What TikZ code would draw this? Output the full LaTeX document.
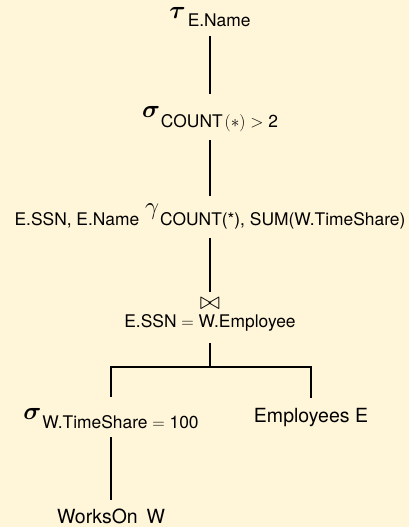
\documentclass[tikz,border=0pt]{standalone}
\usepackage{amsmath}
\usepackage{fontspec}
\setmainfont{TeX Gyre Heros}
\definecolor{bg}{HTML}{FFF5D9}
\newcommand\grk[1]{{\fontsize{25}{25}\selectfont$#1$}}
\newcommand\lowered[2]{\raisebox{-#1}{#2}}
\newsavebox\joinbox
\newcommand\overjoin[2]{\sbox\joinbox{#2}\hbox to \wd\joinbox{\hss\raisebox{#1}[0pt][0pt]{{\fontsize{28}{28}\selectfont$\bowtie$}}\hss}\kern-\wd\joinbox\usebox\joinbox}
\begin{document}
\begin{tikzpicture}[x=1pt,y=1pt,
  every node/.style={inner sep=0pt, outer sep=0pt, anchor=base, font=\fontsize{17.4}{20}\selectfont},
  leaf/.style={font=\fontsize{19.5}{22}\selectfont},
  edge/.style={line width=1.6pt}]
\fill[bg] (0,0) rectangle (409,-527);
\useasboundingbox (0,0) rectangle (409,-527);

\node[text height=12pt, text depth=17pt] (proj) at (210,-19) {\grk{\boldsymbol\tau}\kern2pt\lowered{7.7pt}{E.Name}};
\node[text height=23.7pt, text depth=22.3pt] (sel1) at (210,-117.7) {\grk{\boldsymbol\sigma}\kern1pt\lowered{10pt}{COUNT\kern2pt$(*)>\text{2}$}};
\node[text height=29pt, text depth=13pt] (grp) at (210,-225) {E.SSN, E.Name\kern6pt\raisebox{10.3pt}{\grk{\gamma}}\kern1pt COUNT(*), SUM(W.TimeShare)};
\node[text height=35pt, text depth=16pt] (join) at (210,-327) {\overjoin{18pt}{E.SSN $=$ W.Employee}};
\coordinate (fork) at (210,-367);
\node[text height=22pt, text depth=18pt] (sel2) at (111,-419) {\grk{\boldsymbol\sigma}\kern1pt\lowered{9pt}{W.TimeShare $=$ 100}};
\node[leaf, text height=24pt] (emp) at (311,-422) {Employees E};
\node[leaf, text height=23pt] (works) at (111,-523) {WorksOn\hspace{0.45em}W};

\draw[edge] (proj.south) -- (sel1.north);
\draw[edge] (sel1.south) -- (grp.north);
\draw[edge] (grp.south) -- (join.north);
\draw[edge] (join.south) -- (fork);
\draw[edge] (fork) -| (sel2.north);
\draw[edge] (fork) -| (emp.north);
\draw[edge] (sel2.south) -- (works.north);
\end{tikzpicture}
\end{document}
